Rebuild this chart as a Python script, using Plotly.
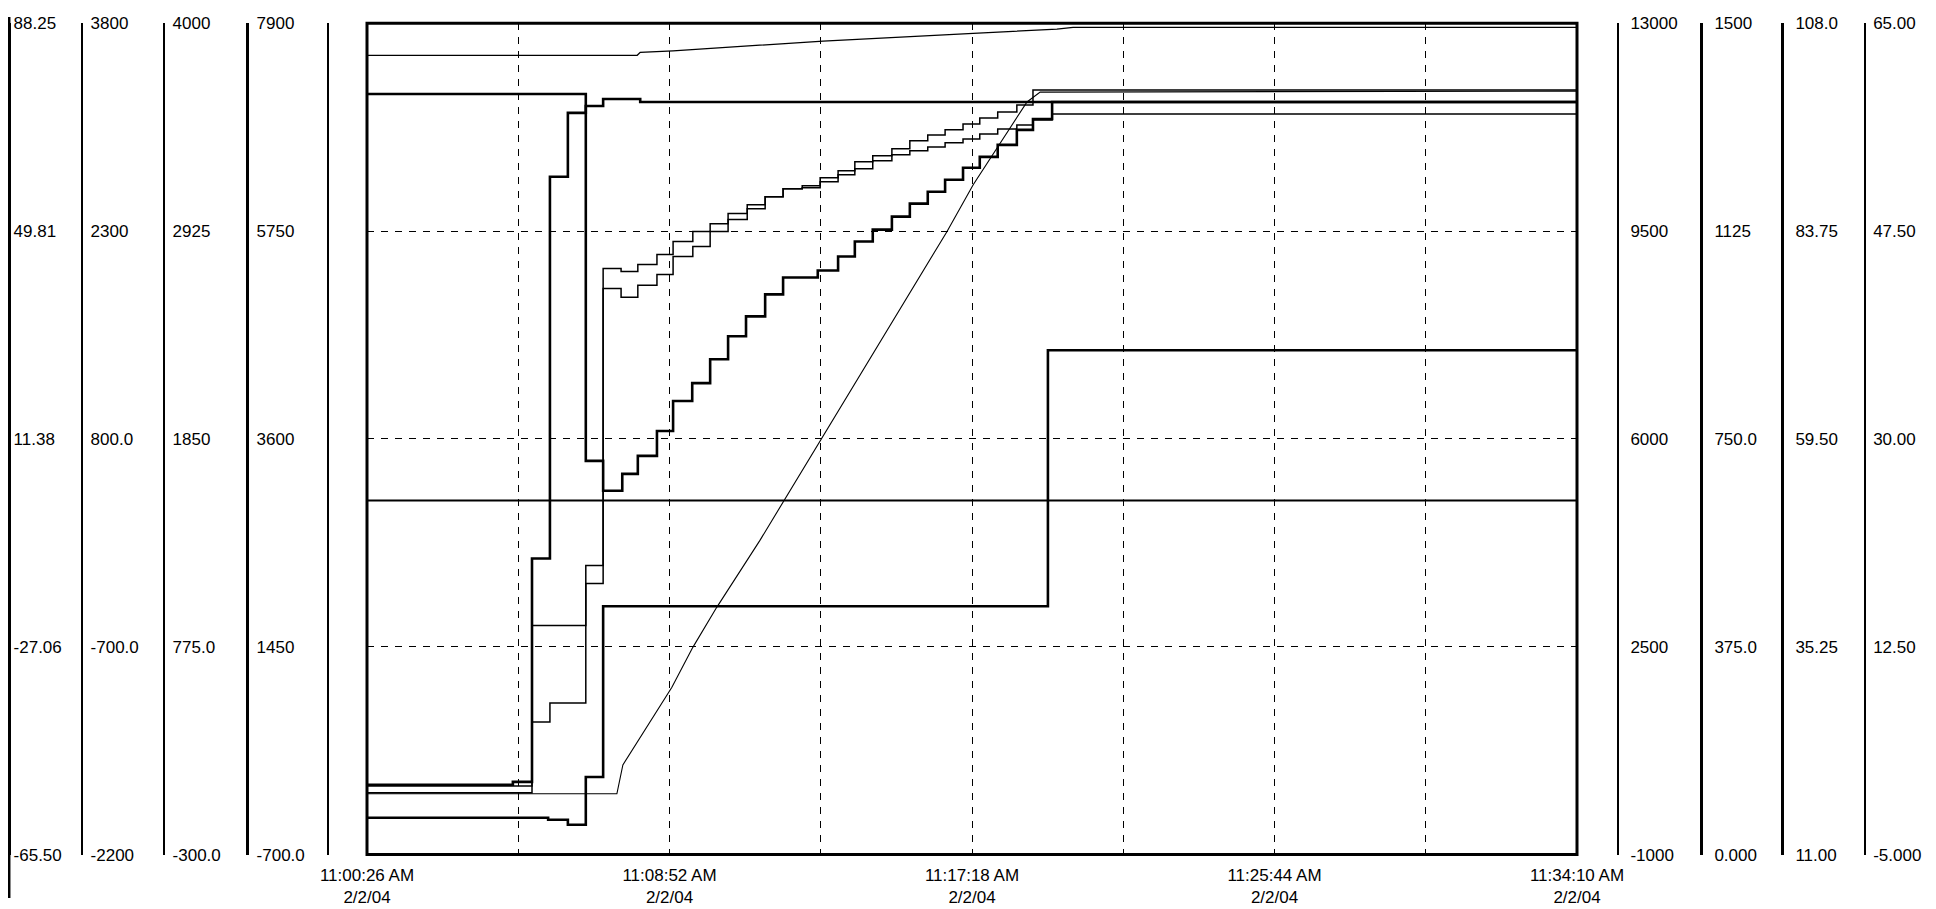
import plotly.graph_objects as go

# ---------------- time axis (seconds after 11:00:26 AM, 2/2/04) ----------------
x_tickvals = [0, 253, 506, 759, 1012, 1265, 1518, 1771, 2024]
x_ticktext = ["11:00:26 AM<br>2/2/04", "", "11:08:52 AM<br>2/2/04", "",
              "11:17:18 AM<br>2/2/04", "", "11:25:44 AM<br>2/2/04", "",
              "11:34:10 AM<br>2/2/04"]

# ---------------- axis scales and tick labels ----------------
l1_range = [-65.5, 88.25]
l1_vals = [-65.5, -27.0625, 11.375, 49.8125, 88.25]
l1_text = ["-65.50", "-27.06", "11.38", "49.81", "88.25"]

l2_range = [-2200, 3800]
l2_vals = [-2200, -700, 800, 2300, 3800]
l2_text = ["-2200", "-700.0", "800.0", "2300", "3800"]

l3_range = [-300, 4000]
l3_vals = [-300, 775, 1850, 2925, 4000]
l3_text = ["-300.0", "775.0", "1850", "2925", "4000"]

l4_range = [-700, 7900]
l4_vals = [-700, 1450, 3600, 5750, 7900]
l4_text = ["-700.0", "1450", "3600", "5750", "7900"]

r1_range = [-1000, 13000]
r1_vals = [-1000, 2500, 6000, 9500, 13000]
r1_text = ["-1000", "2500", "6000", "9500", "13000"]

r2_range = [0, 1500]
r2_vals = [0, 375, 750, 1125, 1500]
r2_text = ["0.000", "375.0", "750.0", "1125", "1500"]

r3_range = [11, 108]
r3_vals = [11, 35.25, 59.5, 83.75, 108]
r3_text = ["11.00", "35.25", "59.50", "83.75", "108.0"]

r4_range = [-5, 65]
r4_vals = [-5, 12.5, 30, 47.5, 65]
r4_text = ["-5.000", "12.50", "30.00", "47.50", "65.00"]

# ---------------- series (time in s, value in its own axis units) ----------------
h_t = [0, 2024]
h_v = [0.0, 0.0]

q_t = [0, 244, 276, 306, 336, 366, 395, 457, 2024]
q_v = [-1696, -1675, -63, 2692, 3153, 3203, 3253, 3232, 3232]

r_t = [0, 418, 428, 510, 545, 585, 657, 763, 970, 1014, 1104, 1126, 2024]
r_v = [14.5, 14.5, 164, 566, 772, 979, 1324, 1865, 2922, 3165, 3593, 3644, 3649]

e_t = [0, 366, 395, 427, 453, 485, 512, 544, 574, 604, 634, 666, 696, 754, 788,
       816, 846, 878, 908, 938, 967, 997, 1025, 1055, 1087, 1114, 1146, 2024]
e_v = [7168, 3373, 3064, 3239, 3425, 3682, 3992, 4177, 4425, 4662, 4868, 5095,
       5270, 5343, 5487, 5642, 5765, 5900, 6034, 6157, 6281, 6405, 6518, 6642,
       6797, 6910, 7085, 7085]

u_t = [0, 452, 457, 512, 657, 763, 1014, 1154, 1181, 2024]
u_v = [12460, 12460, 12510, 12535, 12630, 12700, 12830, 12900, 12930, 12930]

k_t = [0, 303, 336, 366, 395, 1139, 2024]
k_v = [66.5, 63, 54, 140, 448, 910, 910]

c_t = [0, 276, 306, 366, 395, 425, 453, 485, 512, 545, 574, 604, 636, 666, 696,
       728, 758, 788, 816, 846, 878, 908, 938, 967, 997, 1025, 1055, 1087, 1114, 2024]
c_v = [19.0, 26.47, 28.68, 44.73, 79.39, 79.04, 79.85, 81.02, 82.53, 83.69,
       84.62, 85.79, 86.83, 87.76, 88.69, 89.04, 89.97, 90.79, 91.83, 92.53,
       93.35, 94.28, 94.97, 95.56, 96.25, 96.95, 97.65, 98.46, 100.21, 100.32]

d_t = [0, 276, 366, 395, 425, 453, 485, 512, 545, 574, 604, 636, 666, 696, 728,
       758, 788, 816, 846, 878, 908, 938, 967, 997, 1025, 1055, 1087, 1114, 1146, 2024]
d_v = [0.20, 14.30, 17.83, 42.67, 41.92, 42.93, 43.85, 45.36, 46.20, 47.46,
       48.47, 49.39, 50.40, 51.07, 51.15, 51.65, 52.24, 52.75, 53.42, 53.92,
       54.26, 54.59, 54.93, 55.26, 55.68, 56.10, 56.44, 56.86, 57.36, 57.45]

# ---------------- layout geometry ----------------
W, H = 1920, 900
OX = 8                    # horizontal page offset of the figure
SY, OY = 0.982, 15        # observed vertical placement of the figure in the photo
def px(xp): return (xp - OX) / W
def py(yp): return 1 - (yp / SY - OY) / H

x_dom = [px(367), px(1577)]
y_dom = [py(855), py(21)]
pos = {"l1": 0.0005, "l2": px(82), "l3": px(164), "l4": px(247), "l5": px(328),
       "r1": px(1618), "r2": px(1701), "r3": px(1782), "r4": px(1865)}

FONT = "Liberation Sans, Arial, sans-serif"
TF = dict(family=FONT, size=17, color="black")

fig = go.Figure()

def add(t, v, axis, width, shape="hv"):
    fig.add_trace(go.Scatter(x=t, y=v, yaxis=axis, mode="lines",
                             line=dict(color="black", width=width, shape=shape),
                             showlegend=False, hoverinfo="skip"))

add(h_t, h_v, "y", 2.0, "linear")
add(q_t, q_v, "y2", 2.6)
add(r_t, r_v, "y3", 1.1, "linear")
add(e_t, e_v, "y4", 2.6)
fig.add_trace(go.Scatter(x=[], y=[], yaxis="y5", mode="lines", showlegend=False))
add(u_t, u_v, "y6", 1.3, "linear")
add(k_t, k_v, "y7", 2.6)
add(c_t, c_v, "y8", 1.5)
add(d_t, d_v, "y9", 1.5)

def yax(rng, vals, text, position, side, width=2, labels=True, grid=False,
        overlay=True, standoff=8):
    d = dict(range=rng, tickvals=vals, ticktext=text, anchor="free", position=position,
             side=side, showline=True, linecolor="black", linewidth=width,
             ticks="", showticklabels=labels, tickfont=TF, zeroline=False,
             showgrid=grid, domain=y_dom, ticklabeloverflow="allow",
             ticklabelstandoff=standoff, fixedrange=True)
    if side == "left":
        d["ticklabelposition"] = "inside"
    if overlay:
        d["overlaying"] = "y"
    if grid:
        d.update(gridcolor="black", gridwidth=1.2, griddash="7px,7px")
    return d

fig.update_layout(
    width=W, height=H,
    margin=dict(l=0, r=0, t=0, b=0),
    paper_bgcolor="white", plot_bgcolor="white",
    font=dict(family=FONT, color="black"),
    xaxis=dict(range=[0, 2024], domain=x_dom, tickvals=x_tickvals, ticktext=x_ticktext,
               showgrid=True, gridcolor="black", gridwidth=1.2, griddash="7px,7px",
               zeroline=False, showline=False, ticks="", tickfont=TF,
               ticklabelstandoff=8, ticklabeloverflow="allow", automargin=False,
               fixedrange=True),
    yaxis=yax(l1_range, l1_vals, l1_text, pos["l1"], "left", 3, grid=True,
              overlay=False, standoff=3),
    yaxis2=yax(l2_range, l2_vals, l2_text, pos["l2"], "left", 2),
    yaxis3=yax(l3_range, l3_vals, l3_text, pos["l3"], "left", 2),
    yaxis4=yax(l4_range, l4_vals, l4_text, pos["l4"], "left", 3),
    yaxis5=yax([0, 1], [0, 1], ["", ""], pos["l5"], "left", 2, labels=False),
    yaxis6=yax(r1_range, r1_vals, r1_text, pos["r1"], "right", 2),
    yaxis7=yax(r2_range, r2_vals, r2_text, pos["r2"], "right", 3),
    yaxis8=yax(r3_range, r3_vals, r3_text, pos["r3"], "right", 3),
    yaxis9=yax(r4_range, r4_vals, r4_text, pos["r4"], "right", 1.5, standoff=4),
    shapes=[
        dict(type="rect", xref="x domain", yref="y domain", x0=0, x1=1, y0=0, y1=1,
             line=dict(color="black", width=3), layer="above"),
        dict(type="line", xref="paper", yref="paper", x0=0.0005, x1=0.0005, y0=0, y1=1,
             line=dict(color="black", width=3)),
    ],
)

fig.write_html("out.html")
